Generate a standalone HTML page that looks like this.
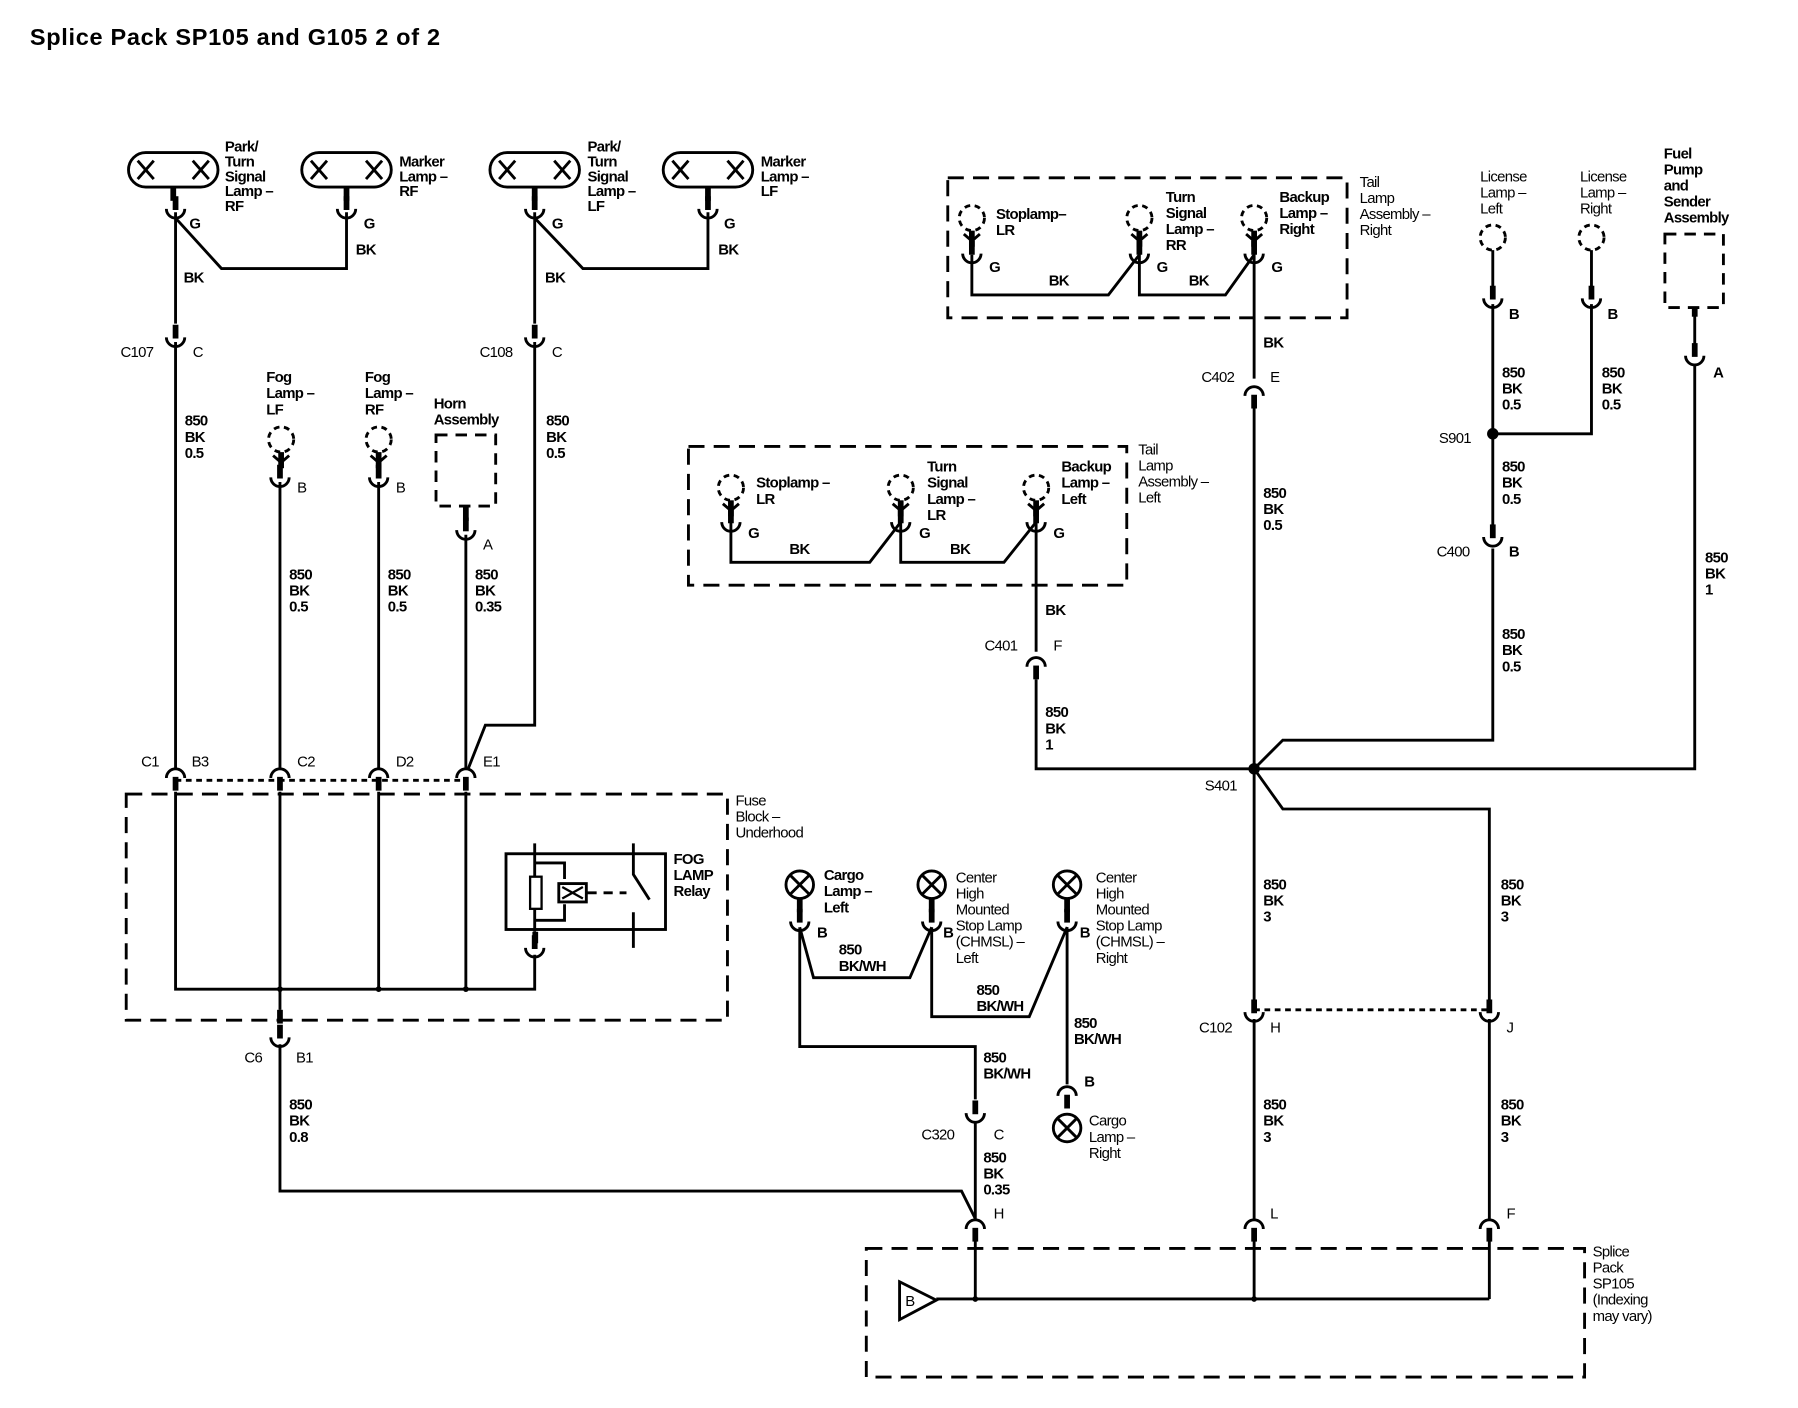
<!DOCTYPE html>
<html><head><meta charset="utf-8"><style>
html,body{margin:0;padding:0;background:#fff}
svg{display:block}
text{font-family:"Liberation Sans",Arial,sans-serif;font-size:13px;fill:#000;letter-spacing:-0.6px}
.b{font-weight:bold}
</style></head><body>
<svg width="1798" height="1408" viewBox="0 0 1567 1227" preserveAspectRatio="none" xmlns="http://www.w3.org/2000/svg">
<defs>
<g id="cu"><rect x="-2.5" y="-19" width="5" height="12" fill="#000"/><path d="M-8,-8 A8,8 0 0 0 8,-8" fill="none" stroke="#000" stroke-width="2.5"/></g>
<g id="cn"><path d="M-8,8 A8,8 0 0 1 8,8" fill="none" stroke="#000" stroke-width="2.5"/><rect x="-2.5" y="7" width="5" height="12" fill="#000"/></g>
<g id="dl"><circle cx="0" cy="0" r="11" fill="none" stroke="#000" stroke-width="2.5" stroke-dasharray="5,4"/><rect x="-2.5" y="11" width="5" height="14" fill="#000"/><path d="M-7,14 L0,20 L7,14" fill="none" stroke="#000" stroke-width="2.5"/></g>
<g id="xl"><circle cx="0" cy="0" r="12" fill="#fff" stroke="#000" stroke-width="2.5"/><path d="M-8,-8 L8,8 M8,-8 L-8,8" stroke="#000" stroke-width="2.5"/></g>
<g id="ov"><rect x="-39" y="-15" width="78" height="30" rx="15" fill="#fff" stroke="#000" stroke-width="2.5"/><path d="M-31,-8 L-17,8 M-17,-8 L-31,8 M17,-8 L31,8 M31,-8 L17,8" stroke="#000" stroke-width="2.5"/><rect x="-2.5" y="15" width="5" height="12" fill="#000"/></g>
</defs>

<text x="26" y="39" style="font-size:20.5px;font-weight:bold;letter-spacing:0.6px">Splice Pack SP105 and G105 2 of 2</text>

<g fill="none" stroke="#000" stroke-width="2.5">
<path d="M153,185 V282 M153,190 L193,234 H302 V185"/>
<path d="M153,298 V670"/>
<path d="M466,185 V282 M466,190 L508,234 H617 V185"/>
<path d="M466,298 V632 H423 L408,670"/>
<path d="M244,420 V670 M330,420 V670 M406,466 V670"/>
<path d="M153,690 V862 H466 V832 M244,690 V880 M330,690 V862 M406,690 V862"/>
<path d="M244,910 V1038 H838 L850,1062"/>
<rect x="441" y="744" width="139" height="66"/>
<path d="M466,735 V812 M466,752 H492 V766 M466,802 H492 V788 M552,735 V762 L566,784 M552,795 V826"/>
<path d="M512,778 H546" stroke-dasharray="8,6"/>
</g>
<rect x="462" y="764" width="10" height="28" fill="#fff" stroke="#000" stroke-width="2"/>
<rect x="487" y="770" width="24" height="16" fill="#fff" stroke="#000" stroke-width="2.5"/>
<path d="M490,773 L508,783 M508,773 L490,783" stroke="#000" stroke-width="2"/>
<rect x="464" y="812" width="5" height="10" fill="#000"/>
<use href="#cu" x="466" y="834"/>
<circle cx="244" cy="862" r="2.5"/><circle cx="330" cy="862" r="2.5"/><circle cx="406" cy="862" r="2.5"/>

<g fill="none" stroke="#000" stroke-width="2.5" stroke-dasharray="14,8">
<rect x="110" y="692" width="524" height="197"/>
<rect x="826" y="155" width="348" height="122"/>
<rect x="600" y="389" width="382" height="121"/>
<rect x="380" y="379" width="52" height="62" stroke-dasharray="10,7"/>
<rect x="1451" y="204" width="51" height="64" stroke-dasharray="10,7"/>
<rect x="755" y="1088" width="626" height="112"/>
</g>
<path d="M153,680 H406" stroke="#000" stroke-width="2.5" stroke-dasharray="5,4"/>
<path d="M1093,880 H1298" stroke="#000" stroke-width="2.5" stroke-dasharray="5,4"/>

<use href="#ov" x="151" y="148"/><use href="#ov" x="302" y="148"/>
<use href="#ov" x="466" y="148"/><use href="#ov" x="617" y="148"/>
<use href="#cu" x="153" y="190"/><use href="#cu" x="302" y="190"/>
<use href="#cu" x="466" y="190"/><use href="#cu" x="617" y="190"/>
<use href="#cu" x="153" y="302"/><use href="#cu" x="466" y="302"/>
<use href="#dl" x="245" y="383"/><use href="#dl" x="330" y="383"/>
<use href="#cu" x="244" y="424"/><use href="#cu" x="330" y="424"/>
<rect x="403.5" y="441" width="5" height="13" fill="#000"/>
<use href="#cu" x="406" y="470"/>
<use href="#cn" x="153" y="670"/><use href="#cn" x="244" y="670"/><use href="#cn" x="330" y="670"/><use href="#cn" x="406" y="670"/>
<rect x="241.5" y="880" width="5" height="12" fill="#000"/>
<use href="#cu" x="244" y="912"/>

<g class="b">
<text x="196" y="132">Park/</text><text x="196" y="145">Turn</text><text x="196" y="158">Signal</text><text x="196" y="171">Lamp –</text><text x="196" y="184">RF</text>
<text x="348" y="145">Marker</text><text x="348" y="158">Lamp –</text><text x="348" y="171">RF</text>
<text x="512" y="132">Park/</text><text x="512" y="145">Turn</text><text x="512" y="158">Signal</text><text x="512" y="171">Lamp –</text><text x="512" y="184">LF</text>
<text x="663" y="145">Marker</text><text x="663" y="158">Lamp –</text><text x="663" y="171">LF</text>
<text x="165" y="199">G</text><text x="317" y="199">G</text><text x="481" y="199">G</text><text x="631" y="199">G</text>
<text x="160" y="246">BK</text><text x="310" y="222">BK</text><text x="475" y="246">BK</text><text x="626" y="222">BK</text>
</g>
<text x="105" y="311">C107</text><text x="168" y="311">C</text>
<text x="418" y="311">C108</text><text x="481" y="311">C</text>
<g class="b">
<text x="161" y="371">850</text><text x="161" y="385">BK</text><text x="161" y="399">0.5</text>
<text x="476" y="371">850</text><text x="476" y="385">BK</text><text x="476" y="399">0.5</text>
<text x="232" y="333">Fog</text><text x="232" y="347">Lamp –</text><text x="232" y="361">LF</text>
<text x="318" y="333">Fog</text><text x="318" y="347">Lamp –</text><text x="318" y="361">RF</text>
<text x="378" y="356">Horn</text><text x="378" y="370">Assembly</text>
<text x="252" y="505">850</text><text x="252" y="519">BK</text><text x="252" y="533">0.5</text>
<text x="338" y="505">850</text><text x="338" y="519">BK</text><text x="338" y="533">0.5</text>
<text x="414" y="505">850</text><text x="414" y="519">BK</text><text x="414" y="533">0.35</text>
</g>
<text x="259" y="429">B</text><text x="345" y="429">B</text><text x="421" y="479">A</text>
<text x="123" y="668">C1</text><text x="167" y="668">B3</text><text x="259" y="668">C2</text><text x="345" y="668">D2</text><text x="421" y="668">E1</text>
<text x="641" y="702">Fuse</text><text x="641" y="716">Block –</text><text x="641" y="730">Underhood</text>
<g class="b"><text x="587" y="753">FOG</text><text x="587" y="767">LAMP</text><text x="587" y="781">Relay</text></g>
<text x="213" y="926">C6</text><text x="258" y="926">B1</text>
<g class="b"><text x="252" y="967">850</text><text x="252" y="981">BK</text><text x="252" y="995">0.8</text></g>

<g fill="none" stroke="#000" stroke-width="2.5">
<path d="M847,222 V257 H966 L993,222 V257 H1068 L1093,222 V330 M1093,356 V670"/>
<path d="M637,455 V490 H758 L785,455 V490 H875 L903,455 V568 M903,592 V670 H1477 V318"/>
<path d="M1301,218 V255 M1387,218 V255"/>
<path d="M1301,265 V462 M1301,478 V645 H1118 L1093,670 L1118,705 H1298 V872 M1093,670 V872 M1387,265 V378 H1301"/>
<path d="M1093,888 V1063 M1298,888 V1063"/>
<path d="M850,1073 V1132 M1093,1073 V1132 M1298,1073 V1132 M816,1132 H1298"/>
</g>
<circle cx="1093" cy="670" r="5"/><circle cx="1301" cy="378" r="5"/>
<circle cx="850" cy="1132" r="2.5"/><circle cx="1093" cy="1132" r="2.5"/>
<use href="#dl" x="847" y="190"/><use href="#dl" x="993" y="190"/><use href="#dl" x="1093" y="190"/>
<use href="#cu" x="847" y="229"/><use href="#cu" x="993" y="229"/><use href="#cu" x="1093" y="229"/>
<use href="#dl" x="637" y="425"/><use href="#dl" x="785" y="425"/><use href="#dl" x="903" y="425"/>
<use href="#cu" x="637" y="463"/><use href="#cu" x="785" y="463"/><use href="#cu" x="903" y="463"/>
<use href="#cn" x="1093" y="337"/><use href="#cn" x="903" y="573"/>
<circle cx="1301" cy="207" r="11" fill="none" stroke="#000" stroke-width="2.5" stroke-dasharray="5,4"/>
<circle cx="1387" cy="207" r="11" fill="none" stroke="#000" stroke-width="2.5" stroke-dasharray="5,4"/>
<use href="#cu" x="1301" y="268"/><use href="#cu" x="1387" y="268"/>
<rect x="1474.5" y="268" width="5" height="8" fill="#000" />
<path d="M1477,268 V300" stroke="#000" stroke-width="2.5"/>
<use href="#cu" x="1477" y="318"/>
<use href="#cu" x="1301" y="476"/>
<use href="#cu" x="1093" y="890"/><use href="#cu" x="1298" y="890"/>
<use href="#cn" x="850" y="1063"/><use href="#cn" x="1093" y="1063"/><use href="#cn" x="1298" y="1063"/>
<path d="M784,1117 L816,1133 L784,1150 Z" fill="#fff" stroke="#000" stroke-width="2.5"/>
<text x="789" y="1138">B</text>

<g class="b">
<text x="868" y="191">Stoplamp–</text><text x="868" y="205">LR</text>
<text x="1016" y="176">Turn</text><text x="1016" y="190">Signal</text><text x="1016" y="204">Lamp –</text><text x="1016" y="218">RR</text>
<text x="1115" y="176">Backup</text><text x="1115" y="190">Lamp –</text><text x="1115" y="204">Right</text>
<text x="862" y="237">G</text><text x="1008" y="237">G</text><text x="1108" y="237">G</text>
<text x="914" y="249">BK</text><text x="1036" y="249">BK</text>
<text x="1101" y="303">BK</text>
</g>
<text x="1185" y="163">Tail</text><text x="1185" y="177">Lamp</text><text x="1185" y="191">Assembly –</text><text x="1185" y="205">Right</text>
<text x="1047" y="333">C402</text><text x="1107" y="333">E</text>
<g class="b"><text x="1101" y="434">850</text><text x="1101" y="448">BK</text><text x="1101" y="462">0.5</text>
<text x="659" y="425">Stoplamp –</text><text x="659" y="439">LR</text>
<text x="808" y="411">Turn</text><text x="808" y="425">Signal</text><text x="808" y="439">Lamp –</text><text x="808" y="453">LR</text>
<text x="925" y="411">Backup</text><text x="925" y="425">Lamp –</text><text x="925" y="439">Left</text>
<text x="652" y="469">G</text><text x="801" y="469">G</text><text x="918" y="469">G</text>
<text x="688" y="483">BK</text><text x="828" y="483">BK</text><text x="911" y="536">BK</text>
</g>
<text x="992" y="396">Tail</text><text x="992" y="410">Lamp</text><text x="992" y="424">Assembly –</text><text x="992" y="438">Left</text>
<text x="858" y="567">C401</text><text x="918" y="567">F</text>
<g class="b"><text x="911" y="625">850</text><text x="911" y="639">BK</text><text x="911" y="653">1</text></g>
<text x="1290" y="158">License</text><text x="1290" y="172">Lamp –</text><text x="1290" y="186">Left</text>
<text x="1377" y="158">License</text><text x="1377" y="172">Lamp –</text><text x="1377" y="186">Right</text>
<g class="b"><text x="1450" y="138">Fuel</text><text x="1450" y="152">Pump</text><text x="1450" y="166">and</text><text x="1450" y="180">Sender</text><text x="1450" y="194">Assembly</text></g>
<g class="b"><text x="1315" y="278">B</text><text x="1401" y="278">B</text><text x="1493" y="329">A</text>
<text x="1309" y="329">850</text><text x="1309" y="343">BK</text><text x="1309" y="357">0.5</text>
<text x="1396" y="329">850</text><text x="1396" y="343">BK</text><text x="1396" y="357">0.5</text>
<text x="1309" y="411">850</text><text x="1309" y="425">BK</text><text x="1309" y="439">0.5</text>
<text x="1315" y="485">B</text>
<text x="1309" y="557">850</text><text x="1309" y="571">BK</text><text x="1309" y="585">0.5</text>
<text x="1486" y="490">850</text><text x="1486" y="504">BK</text><text x="1486" y="518">1</text>
</g>
<text x="1254" y="386">S901</text><text x="1252" y="485">C400</text><text x="1050" y="689">S401</text>
<g class="b">
<text x="1101" y="775">850</text><text x="1101" y="789">BK</text><text x="1101" y="803">3</text>
<text x="1308" y="775">850</text><text x="1308" y="789">BK</text><text x="1308" y="803">3</text>
<text x="1101" y="967">850</text><text x="1101" y="981">BK</text><text x="1101" y="995">3</text>
<text x="1308" y="967">850</text><text x="1308" y="981">BK</text><text x="1308" y="995">3</text>
</g>
<text x="1045" y="900">C102</text><text x="1107" y="900">H</text><text x="1313" y="900">J</text>
<text x="1107" y="1062">L</text><text x="1313" y="1062">F</text><text x="866" y="1062">H</text>
<text x="1388" y="1095">Splice</text><text x="1388" y="1109">Pack</text><text x="1388" y="1123">SP105</text><text x="1388" y="1137">(Indexing</text><text x="1388" y="1151">may vary)</text>

<g fill="none" stroke="#000" stroke-width="2.5">
<path d="M697,808 L709,852 H793 L812,808 M697,808 V912 H850 V958 M812,808 V886 H897 L930,808 V945 M850,978 V1063"/>
</g>
<use href="#xl" x="697" y="771"/><use href="#xl" x="812" y="771"/><use href="#xl" x="930" y="771"/>
<rect x="694.5" y="783" width="5" height="12" fill="#000"/><rect x="809.5" y="783" width="5" height="12" fill="#000"/><rect x="927.5" y="783" width="5" height="12" fill="#000"/>
<use href="#cu" x="697" y="811"/><use href="#cu" x="812" y="811"/><use href="#cu" x="930" y="811"/>
<use href="#cn" x="930" y="947"/><use href="#xl" x="930" y="983"/>
<use href="#cu" x="850" y="978"/>
<g class="b">
<text x="718" y="767">Cargo</text><text x="718" y="781">Lamp –</text><text x="718" y="795">Left</text>
<text x="712" y="817">B</text><text x="822" y="817">B</text><text x="941" y="817">B</text>
<text x="731" y="832">850</text><text x="731" y="846">BK/WH</text>
<text x="851" y="867">850</text><text x="851" y="881">BK/WH</text>
<text x="936" y="896">850</text><text x="936" y="910">BK/WH</text>
<text x="857" y="926">850</text><text x="857" y="940">BK/WH</text>
<text x="945" y="947">B</text>
<text x="857" y="1013">850</text><text x="857" y="1027">BK</text><text x="857" y="1041">0.35</text>
</g>
<text x="833" y="769">Center</text><text x="833" y="783">High</text><text x="833" y="797">Mounted</text><text x="833" y="811">Stop Lamp</text><text x="833" y="825">(CHMSL) –</text><text x="833" y="839">Left</text>
<text x="955" y="769">Center</text><text x="955" y="783">High</text><text x="955" y="797">Mounted</text><text x="955" y="811">Stop Lamp</text><text x="955" y="825">(CHMSL) –</text><text x="955" y="839">Right</text>
<text x="949" y="981">Cargo</text><text x="949" y="995">Lamp –</text><text x="949" y="1009">Right</text>
<text x="803" y="993">C320</text><text x="866" y="993">C</text>
</svg>
</body></html>
